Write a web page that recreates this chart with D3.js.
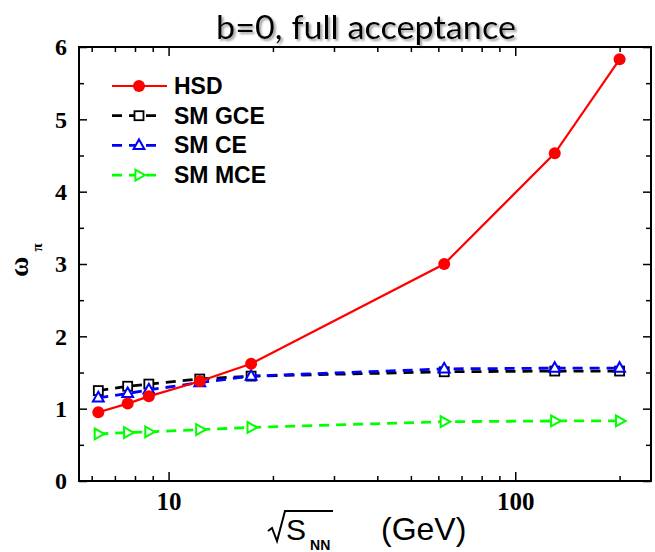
<!DOCTYPE html>
<html lang="en">
<head>
  <meta charset="UTF-8">
  <title>omega_pi vs sqrt(s_NN)</title>
  <script src="https://d3js.org/d3.v7.min.js"></script>
  <style>
    body {
      margin: 0;
      background: #ffffff;
    }

    .axis text {
      font-family: "Liberation Serif", "Times New Roman", serif;
      font-weight: bold;
      fill: #000;
    }

    .axis line {
      stroke: #000;
      stroke-width: 1.5;
    }

    .legend text {
      font-family: "Liberation Sans", Arial, sans-serif;
      font-weight: bold;
      font-size: 23px;
    }
  </style>
</head>
<body>
  <script>
    // collision energies (GeV) and scaled variance of pions
    const energies = [6.27, 7.62, 8.77, 12.3, 17.3, 62.4, 130, 200];
    const hsd = [0.95, 1.07, 1.17, 1.38, 1.62, 3.00, 4.53, 5.83];
    const smGCE = [1.25, 1.31, 1.34, 1.41, 1.45, 1.51, 1.52, 1.52];
    const smCE = [1.15, 1.21, 1.26, 1.36, 1.45, 1.55, 1.56, 1.56];
    const smMCE = [0.65, 0.67, 0.68, 0.71, 0.74, 0.82, 0.83, 0.83];

    const xMajor = [10, 100];
    const xMinor = [6, 7, 8, 9, 20, 30, 40, 50, 60, 70, 80, 90, 200];
    const yMajor = [0, 1, 2, 3, 4, 5, 6];
    const yMinor = [0.5, 1.5, 2.5, 3.5, 4.5, 5.5];

    const W = 655, H = 552;
    const plotL = 79, plotR = 651, plotT = 47, plotB = 481;

    const svg = d3.select("body").append("svg")
      .attr("width", W)
      .attr("height", H);

    const defs = svg.append("defs");
    defs.append("filter")
      .attr("id", "shadow")
      .attr("x", "-10%").attr("y", "-30%")
      .attr("width", "130%").attr("height", "160%")
      .append("feDropShadow")
      .attr("dx", 2).attr("dy", 2)
      .attr("stdDeviation", 1.2)
      .attr("flood-color", "#888")
      .attr("flood-opacity", 0.8);

    const x = d3.scaleLog()
      .domain([5.515, 246.4])
      .range([plotL, plotR]);
    const y = d3.scaleLinear()
      .domain([0, 6])
      .range([plotB, plotT]);

    // title
    svg.append("text")
      .attr("x", 366)
      .attr("y", 39)
      .attr("text-anchor", "middle")
      .attr("textLength", 300)
      .attr("lengthAdjust", "spacingAndGlyphs")
      .attr("filter", "url(#shadow)")
      .style("font-family", "Lato, 'Open Sans', sans-serif")
      .style("font-size", "32px")
      .text("b=0, full acceptance");

    // axes: major ticks with labels, minor ticks without
    function addAxis(axis, tx, ty, size) {
      const g = svg.append("g")
        .attr("class", "axis")
        .attr("transform", "translate(" + tx + "," + ty + ")")
        .call(axis);
      g.select(".domain").remove();
      g.selectAll("text").style("font-size", size + "px");
      return g;
    }

    addAxis(d3.axisBottom(x).tickValues(xMajor).tickSize(-9).tickPadding(11)
      .tickFormat(d3.format("d")), 0, plotB, 25);
    addAxis(d3.axisBottom(x).tickValues(xMinor).tickSize(-5).tickFormat(""), 0, plotB, 0);
    addAxis(d3.axisTop(x).tickValues(xMajor).tickSize(-9).tickFormat(""), 0, plotT, 0);
    addAxis(d3.axisTop(x).tickValues(xMinor).tickSize(-5).tickFormat(""), 0, plotT, 0);

    addAxis(d3.axisLeft(y).tickValues(yMajor).tickSize(-8).tickPadding(12)
      .tickFormat(d3.format("d")), plotL, 0, 24);
    addAxis(d3.axisLeft(y).tickValues(yMinor).tickSize(-5).tickFormat(""), plotL, 0, 0);
    addAxis(d3.axisRight(y).tickValues(yMajor).tickSize(-8).tickFormat(""), plotR, 0, 0);
    addAxis(d3.axisRight(y).tickValues(yMinor).tickSize(-5).tickFormat(""), plotR, 0, 0);

    svg.append("rect")
      .attr("x", plotL).attr("y", plotT)
      .attr("width", plotR - plotL).attr("height", plotB - plotT)
      .attr("fill", "none")
      .attr("stroke", "#000")
      .attr("stroke-width", 2);

    // y label: omega_pi, rotated
    const yl = svg.append("text")
      .attr("transform", "translate(28,277) rotate(-90)")
      .style("font-family", "'Liberation Serif', 'Times New Roman', serif")
      .style("font-weight", "bold")
      .style("font-size", "28px");
    yl.append("tspan").text("ω");
    yl.append("tspan")
      .attr("dx", 5).attr("dy", 14)
      .style("font-size", "15px")
      .text("π");

    // x label: sqrt(S_NN) (GeV)
    svg.append("path")
      .attr("d", "M268,531 L272,528 L277,541 L285,511 L333,511")
      .attr("fill", "none")
      .attr("stroke", "#000")
      .attr("stroke-width", 2);
    const xl = svg.append("text")
      .attr("x", 286)
      .attr("y", 540)
      .style("font-family", "'Liberation Sans', Arial, sans-serif")
      .style("font-size", "30px");
    xl.append("tspan").text("S");
    xl.append("tspan")
      .attr("dx", 4).attr("dy", 10)
      .style("font-size", "14px")
      .style("font-weight", "bold")
      .text("NN");
    svg.append("text")
      .attr("x", 381)
      .attr("y", 540)
      .style("font-family", "'Liberation Sans', Arial, sans-serif")
      .style("font-size", "32px")
      .text("(GeV)");

    // markers
    function triUp(s) {
      return "M0," + (-s) + " L" + (s * 0.9) + "," + (s * 0.6) + " L" + (-s * 0.9) + "," + (s * 0.6) + "Z";
    }
    function triRight(s) {
      return "M" + s + ",0 L" + (-s * 0.6) + "," + (-s * 0.9) + " L" + (-s * 0.6) + "," + (s * 0.9) + "Z";
    }

    const series = [
      {name: "SM GCE", values: smGCE, color: "#000000", dash: "10,7", marker: "square"},
      {name: "SM CE", values: smCE, color: "#0000ff", dash: "10,7", marker: "triUp"},
      {name: "SM MCE", values: smMCE, color: "#00ff00", dash: "10,7", marker: "triRight"},
      {name: "HSD", values: hsd, color: "#ff0000", dash: null, marker: "circle"}
    ];

    function drawMarker(g, type, color) {
      if (type === "circle") {
        g.append("circle").attr("r", 6).attr("fill", color);
      } else if (type === "square") {
        g.append("rect").attr("x", -4.5).attr("y", -4.5)
          .attr("width", 9).attr("height", 9)
          .attr("fill", "#fff").attr("stroke", color).attr("stroke-width", 1.8);
      } else if (type === "triUp") {
        g.append("path").attr("d", triUp(6))
          .attr("fill", "#fff").attr("stroke", color).attr("stroke-width", 2);
      } else {
        g.append("path").attr("d", triRight(6))
          .attr("fill", "#fff").attr("stroke", color).attr("stroke-width", 2);
      }
    }

    const line = d3.line()
      .x(d => x(d[0]))
      .y(d => y(d[1]));

    series.forEach(function (s) {
      const pts = energies.map((e, i) => [e, s.values[i]]);
      svg.append("path")
        .datum(pts)
        .attr("d", line)
        .attr("fill", "none")
        .attr("stroke", s.color)
        .attr("stroke-width", s.dash ? 2.8 : 2.2)
        .attr("stroke-dasharray", s.dash);
      pts.forEach(function (p) {
        const g = svg.append("g")
          .attr("transform", "translate(" + x(p[0]) + "," + y(p[1]) + ")");
        drawMarker(g, s.marker, s.color);
      });
    });

    // legend
    const legendOrder = [series[3], series[0], series[1], series[2]];
    const legend = svg.append("g").attr("class", "legend");
    legendOrder.forEach(function (s, i) {
      const ly = 86 + i * 29.7;
      legend.append("line")
        .attr("x1", 112).attr("x2", s.dash ? 160 : 167)
        .attr("y1", ly).attr("y2", ly)
        .attr("stroke", s.color)
        .attr("stroke-width", s.dash ? 2.8 : 2.2)
        .attr("stroke-dasharray", s.dash);
      const g = legend.append("g").attr("transform", "translate(139," + ly + ")");
      drawMarker(g, s.marker, s.color);
      legend.append("text")
        .attr("x", 174)
        .attr("y", ly + 8)
        .text(s.name);
    });
  </script>
</body>
</html>
